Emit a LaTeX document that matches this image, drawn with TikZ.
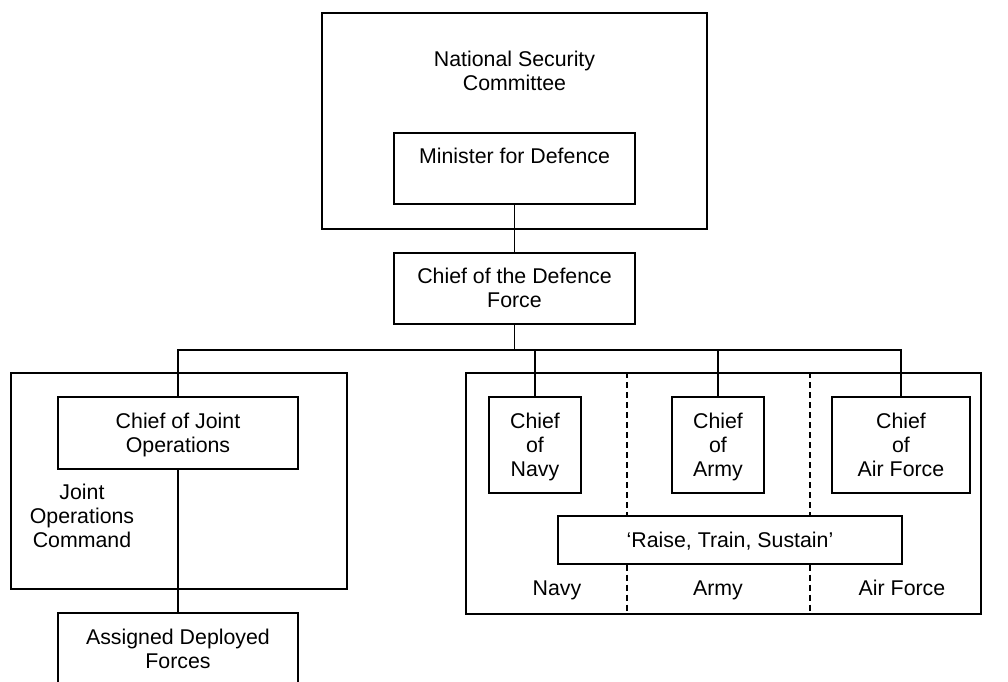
\documentclass[tikz,border=0pt]{standalone}
\usepackage{fontspec}
\setmainfont{Liberation Sans}
\usetikzlibrary{positioning}
\tikzset{
  box/.style={draw,line width=0.9pt,align=center,inner sep=0pt,text depth=0.5pt},
  frame/.style={draw,line width=0.9pt,inner sep=0pt},
  link/.style={line width=0.9pt},
  divider/.style={line width=0.9pt,dash pattern=on 4.5pt off 3pt},
  lbl/.style={align=center,inner sep=0pt,text depth=0.5pt},
}

\begin{document}
\begin{tikzpicture}[x=0.75pt,y=-0.75pt,font=\fontsize{16}{18}\selectfont]
  \clip (0,0) rectangle (1008,682);
  % top: committee with minister inside
  \node[frame,minimum width=288.75pt,minimum height=162pt] (nsc) at (514.5,121) {};
  \node[lbl] (nsclbl) at (514.5,71.5) {National Security\\Committee};
  \node[box,minimum width=180.75pt,minimum height=53.25pt] (minister) at (514.5,168.5) {Minister for Defence\\~};
  \node[box,minimum width=180.75pt,minimum height=53.25pt] (cdf) at (514.5,288.5) {Chief of the Defence\\Force};
  \coordinate (bus) at (0,350);
  % joint operations side
  \node[frame,minimum width=252pt,minimum height=162pt] (jocframe) at (179,481) {};
  \node[box,minimum width=180pt,minimum height=54pt] (cjops) at (178,433) {Chief of Joint\\Operations};
  \node[lbl] (joclbl) at (82,516) {Joint\\Operations\\Command};
  \node[box,minimum width=180pt,minimum height=54pt] (assigned) at (178,649) {Assigned Deployed\\Forces};
  % services side
  \node[frame,minimum width=386.25pt,minimum height=180.75pt] (svcframe) at (723.5,493.5) {};
  \node[box,minimum width=69pt,minimum height=72pt] (navychief) at (535,445) {Chief\\of\\Navy};
  \node[box,minimum width=69pt,minimum height=72pt] (armychief) at (718,445) {Chief\\of\\Army};
  \node[box,minimum width=103.5pt,minimum height=72pt] (airchief) at (901,445) {Chief\\of\\Air Force};
  \node[box,minimum width=258pt,minimum height=36pt] (raise) at (730,540) {`Raise, Train, Sustain'};
  \node[lbl] (navylbl) at (557,588) {Navy};
  \node[lbl] (armylbl) at (718,588) {Army};
  \node[lbl] (airlbl) at (902,588) {Air Force};
  \coordinate (div1) at (627,0);
  \coordinate (div2) at (810,0);
  \draw[divider] (svcframe.north -| div1) -- (raise.north -| div1);
  \draw[divider] (raise.south -| div1) -- (svcframe.south -| div1);
  \draw[divider] (svcframe.north -| div2) -- (raise.north -| div2);
  \draw[divider] (raise.south -| div2) -- (svcframe.south -| div2);
  % connectors
  \draw[link] (minister.south) -- (cdf.north);
  \draw[link] (cdf.south) -- (cdf.south |- bus);
  \draw[link] (cjops.north) |- (airchief.north |- bus) -- (airchief.north);
  \draw[link] (navychief.north) -- (navychief.north |- bus);
  \draw[link] (armychief.north) -- (armychief.north |- bus);
  \draw[link] (cjops.south) -- (assigned.north);
\end{tikzpicture}
\end{document}
